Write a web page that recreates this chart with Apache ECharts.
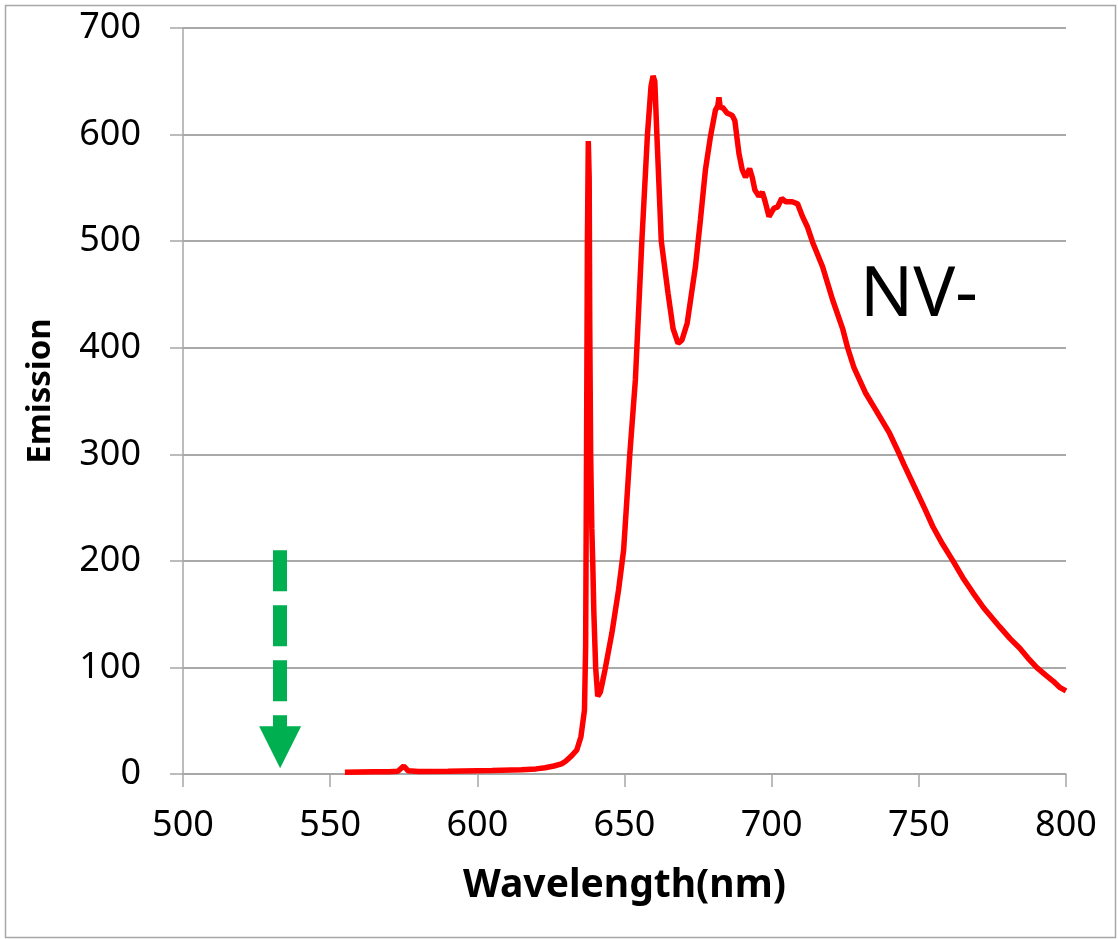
<!DOCTYPE html>
<html>
<head>
<meta charset="utf-8">
<script src="https://cdn.jsdelivr.net/npm/echarts@6/dist/echarts.min.js"></script>
<style>
html, body { margin: 0; padding: 0; background: #fff; }
#chart { width: 1118px; height: 939px; }
</style>
</head>
<body>
<div id="chart"></div>
<script>
// spectrum
var wavelength = [
	555, 560, 565, 570, 573, 575, 576.5, 580, 590, 600, 605, 611.6, 615, 620, 623, 626, 628.6, 630, 632, 633.8,
	635.2, 636.4, 636.8, 637.1, 637.4, 637.7, 638.0, 638.2, 638.5, 638.9, 639.2, 639.6, 640.2, 640.9,
	641.8, 642.5, 643.4, 645.7, 648, 649.7, 651.8, 653.7, 655.9, 657.8, 659, 659.7, 660.3, 661, 662.5, 664.8,
	666.5, 668.2, 669.5, 671.3, 674.1, 675.8, 677.5, 679.2, 680.9, 681.7, 682.1, 682.6, 683.2, 684.9, 685.8,
	686.6, 687.5, 688.3, 688.9, 690, 691.1, 692.5, 693.4, 694.3, 695.7, 696.8, 697.7, 699.1, 700.8, 702,
	703.4, 704.8, 707, 708.8, 710.5, 712.2, 713.9, 717.3, 720.7, 724.1, 725.8, 728, 732, 735.5, 740, 743.4,
	745, 749.1, 752, 754.8, 758, 761.6, 765, 768.4, 772, 777.5, 781, 784.3, 787, 790, 793, 795.7, 798, 800
];
var emission = [
	1.6, 1.8, 2, 2.2, 2.5, 7.5, 3, 2.3, 2.5, 3, 3.2, 3.8, 4, 4.8, 5.9, 7.5, 9.5, 12, 17, 22.5,
	35, 60, 120, 300, 500, 594, 560, 420, 300, 230, 200, 150, 100, 73,
	77, 86, 98, 132, 173, 210, 300, 370, 500, 600, 645, 655, 650, 600, 500, 451,
	418, 404, 407, 423, 476, 520, 567, 598, 623, 627, 635, 624, 626, 620, 619,
	618, 613, 595, 582, 567, 560, 568, 560, 548, 542, 546, 538, 523, 531, 532,
	540, 537, 537, 535, 523, 513, 499, 476, 445, 418, 400, 381, 357, 341, 320, 300,
	290, 266, 249, 232, 216, 200, 184, 170, 156, 138, 127, 118, 109, 100, 93, 87, 81, 78
];

// excitation arrow (green) and label
var arrowX = 533;
var arrowTop = 210;
var arrowEnd = 25;
var peakLabel = 'NV-';

var points = [];
for (var i = 0; i < wavelength.length; i++) points.push([wavelength[i], emission[i]]);

var chart = echarts.init(document.getElementById('chart'));
var font = '"Noto Sans", "DejaVu Sans", sans-serif';

var option = {
	animation: false,
	backgroundColor: '#fff',
	grid: { left: 183, right: 52, top: 28, bottom: 165 },
	xAxis: {
		type: 'value',
		min: 500,
		max: 800,
		interval: 50,
		name: 'Wavelength(nm)',
		nameLocation: 'middle',
		nameGap: 92,
		nameTextStyle: { fontFamily: font, fontSize: 39, fontWeight: 'bold', color: '#000' },
		axisLine: { show: true, lineStyle: { color: '#a6a6a6', width: 1.5 } },
		axisTick: { show: true, length: 13, lineStyle: { color: '#a6a6a6', width: 1.5 } },
		axisLabel: { fontFamily: font, fontSize: 36, color: '#000', margin: 34 },
		splitLine: { show: false }
	},
	yAxis: {
		type: 'value',
		min: 0,
		max: 700,
		interval: 100,
		name: 'Emission',
		nameLocation: 'middle',
		nameGap: 126,
		nameTextStyle: { fontFamily: font, fontSize: 33, fontWeight: 'bold', color: '#000', padding: [0, 0, 0, 20] },
		axisLine: { show: true, lineStyle: { color: '#a6a6a6', width: 1.5 } },
		axisTick: { show: true, length: 13, lineStyle: { color: '#a6a6a6', width: 1.5 } },
		axisLabel: { fontFamily: font, fontSize: 36, color: '#000', margin: 42 },
		splitLine: { show: true, lineStyle: { color: '#8c8c8c', width: 1.5 } }
	},
	series: [{
		type: 'line',
		data: points,
		showSymbol: false,
		smooth: false,
		lineStyle: { color: '#ff0000', width: 5.5 },
		itemStyle: { color: '#ff0000' },
		markLine: {
			silent: true,
			symbol: ['none', 'triangle'],
			symbolSize: [42, 42],
			label: { show: false },
			lineStyle: { color: '#00b050', width: 14, type: [41, 14], opacity: 1 },
			data: [[{ coord: [arrowX, arrowTop] }, { coord: [arrowX, arrowEnd] }]]
		}
	}],
	graphic: [
		{
			type: 'rect',
			left: 3, top: 3,
			shape: { width: 1110, height: 932 },
			style: { fill: 'none', stroke: '#a6a6a6', lineWidth: 1.5 }
		},
		{
			type: 'text',
			left: 860, top: 261,
			style: { text: peakLabel, font: '70px ' + font, fill: '#000' }
		}
	]
};
chart.setOption(option);
</script>
</body>
</html>
